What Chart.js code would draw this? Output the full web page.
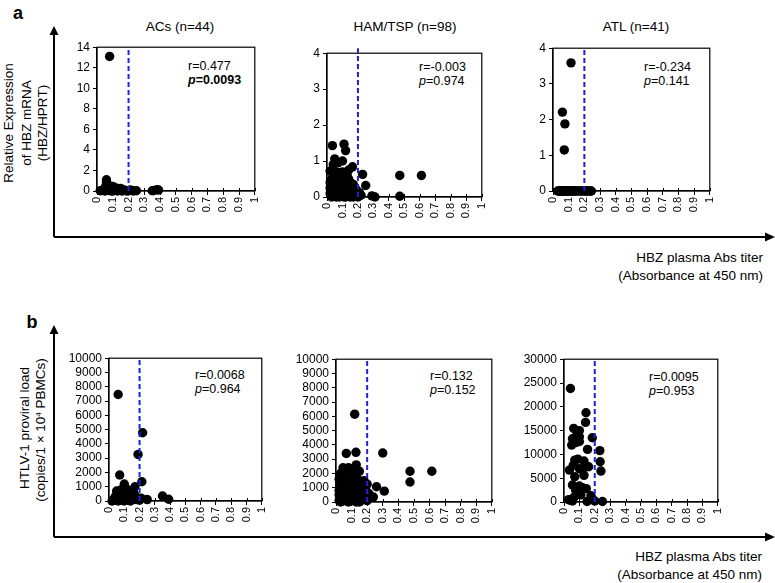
<!DOCTYPE html>
<html>
<head>
<meta charset="utf-8">
<script src="https://cdn.jsdelivr.net/npm/chart.js@4.4.1/dist/chart.umd.min.js"></script>
<style>
  html, body { margin: 0; padding: 0; background: #fff; }
  body { width: 775px; height: 583px; position: relative; overflow: hidden; font-family: "Liberation Sans", Arial, sans-serif; color: #000; }
  canvas { position: absolute; }
  .t { position: absolute; white-space: nowrap; font-size: 13.5px; line-height: 1; }
  .c { transform: translate(-50%, -50%); }
  .rot { transform: translate(-50%, -50%) rotate(-90deg); }
  .ann { position: absolute; white-space: nowrap; font-size: 12.5px; line-height: 14px; }
  .lab { position: absolute; white-space: nowrap; font-size: 13.5px; line-height: 18px; text-align: right; }
  svg { position: absolute; left: 0; top: 0; }
</style>
</head>
<body>
<svg width="775" height="583">
  <line x1="54" y1="237" x2="54" y2="33" stroke="#000" stroke-width="2"/>
  <polygon points="54,26 49.5,35 58.5,35" fill="#000"/>
  <line x1="54" y1="237" x2="766" y2="237" stroke="#000" stroke-width="2"/>
  <polygon points="775,237 765,232.5 765,241.5" fill="#000"/>
  <line x1="54" y1="537" x2="54" y2="332" stroke="#000" stroke-width="2"/>
  <polygon points="54,325 49.5,334 58.5,334" fill="#000"/>
  <line x1="54" y1="537" x2="766" y2="537" stroke="#000" stroke-width="2"/>
  <polygon points="775,537 765,532.5 765,541.5" fill="#000"/>
</svg>

<div class="t c" style="left:18px; top:13px; font-size:18px; font-weight:bold;">a</div>
<div class="t c" style="left:32px; top:322px; font-size:18px; font-weight:bold;">b</div>

<div class="t c" style="left:180px; top:27px;">ACs (n=44)</div>
<div class="t c" style="left:405px; top:27px;">HAM/TSP (n=98)</div>
<div class="t c" style="left:636px; top:27px;">ATL (n=41)</div>

<div class="t rot" style="left:9px; top:123px;">Relative Expression</div>
<div class="t rot" style="left:27px; top:123px;">of HBZ mRNA</div>
<div class="t rot" style="left:43px; top:123px;">(HBZ/HPRT)</div>

<div class="t rot" style="left:25px; top:428px;">HTLV-1 proviral load</div>
<div class="t rot" style="left:41px; top:430px;">(copies/1 × 10<sup style="font-size:8px; vertical-align:4px;">4</sup> PBMCs)</div>

<div class="lab" style="right:12px; top:249px;">HBZ plasma Abs titer<br>(Absorbance at 450 nm)</div>
<div class="lab" style="right:13px; top:548px;">HBZ plasma Abs titer<br>(Absorbance at 450 nm)</div>

<div class="ann" style="left:188px; top:59px;">r=0.477<br><b><i>p</i>=0.0093</b></div>
<div class="ann" style="left:419px; top:60px;">r=-0.003<br><i>p</i>=0.974</div>
<div class="ann" style="left:644px; top:60px;">r=-0.234<br><i>p</i>=0.141</div>
<div class="ann" style="left:195px; top:368px;">r=0.0068<br><i>p</i>=0.964</div>
<div class="ann" style="left:430px; top:369px;">r=0.132<br><i>p</i>=0.152</div>
<div class="ann" style="left:649px; top:370px;">r=0.0095<br><i>p</i>=0.953</div>

<canvas id="c1"></canvas>
<canvas id="c2"></canvas>
<canvas id="c3"></canvas>
<canvas id="c4"></canvas>
<canvas id="c5"></canvas>
<canvas id="c6"></canvas>

<script>
// ---------- DATA ----------
const xTicks = [0, 0.1, 0.2, 0.3, 0.4, 0.5, 0.6, 0.7, 0.8, 0.9, 1];
const cutoff = 0.2;

// Panel a: relative HBZ mRNA expression vs HBZ Abs titer
const acsHbzX = [0.02,0.03,0.04,0.05,0.05,0.06,0.06,0.06,0.07,0.07,0.07,0.08,0.08,0.08,0.09,0.09,0.09,0.10,0.10,0.10,0.11,0.11,0.12,0.12,0.13,0.13,0.14,0.15,0.15,0.16,0.17,0.18,0.19,0.20,0.21,0.22,0.23,0.25,0.35,0.36,0.38,0.39,0.06,0.08];
const acsHbzY = [0.02,0.05,0.1,0.3,0.0,1.1,0.6,0.15,0.4,0.05,0.2,13.1,0.5,0.1,0.25,0.0,0.35,0.1,0.45,0.0,0.2,0.05,0.3,0.1,0.0,0.15,0.1,0.25,0.05,0.0,0.1,0.05,0.0,0.02,0.1,0.05,0.0,0.02,0.02,0.05,0.12,0.1,0.8,0.3];

const hamHbzX = [0.035,0.11,0.12,0.05,0.10,0.165,0.14,0.23,0.47,0.61,0.47,0.29,0.31,0.25,0.02,0.07,0.04,0.06,0.09,0.13,0.15,0.17,0.19,0.21,0.18,0.20,0.02,0.03,0.02,0.03,0.04,0.05,0.06,0.07,0.08,0.09,0.10,0.11,0.12,0.13,0.14,0.15,0.04,0.05,0.06,0.07,0.08,0.09,0.10,0.11,0.12,0.13,0.14,0.16,0.17,0.05,0.08,0.10,0.12,0.03,0.06,0.07,0.08,0.09,0.10,0.11,0.12,0.13,0.04,0.05,0.06,0.07,0.08,0.09,0.10,0.11,0.14,0.15,0.16,0.18,0.19,0.22,0.03,0.04,0.05,0.06,0.07,0.08,0.09,0.10,0.11,0.12,0.13,0.14,0.15,0.16,0.17,0.02];
const hamHbzY = [1.43,1.47,1.29,1.06,1.0,0.84,0.75,0.63,0.6,0.6,0.02,0.03,0.0,0.32,0.72,0.95,0.9,0.7,0.65,0.6,0.4,0.35,0.2,0.12,0.05,0.0,0.4,0.3,0.1,0.0,0.55,0.45,0.35,0.25,0.15,0.05,0.5,0.4,0.3,0.2,0.1,0.0,0.2,0.1,0.0,0.5,0.4,0.3,0.2,0.1,0.0,0.45,0.3,0.2,0.1,0.6,0.6,0.7,0.55,0.5,0.15,0.05,0.0,0.45,0.35,0.25,0.15,0.05,0.05,0.3,0.5,0.35,0.25,0.15,0.05,0.55,0.5,0.25,0.05,0.25,0.1,0.05,0.15,0.35,0.2,0.25,0.15,0.5,0.2,0.1,0.0,0.4,0.3,0.2,0.1,0.3,0.0,0.25];

const atlHbzX = [0.115,0.06,0.076,0.072,0.03,0.035,0.04,0.045,0.05,0.05,0.055,0.06,0.06,0.065,0.07,0.07,0.075,0.08,0.085,0.09,0.09,0.1,0.1,0.11,0.115,0.12,0.13,0.135,0.14,0.15,0.16,0.17,0.18,0.19,0.2,0.205,0.21,0.22,0.23,0.24,0.245];
const atlHbzY = [3.59,2.21,1.88,1.15,0,0,0,0,0,0,0,0,0,0,0,0,0,0,0,0,0,0,0,0,0,0,0,0,0,0,0,0,0,0,0,0,0,0,0,0,0];

// Panel b: HTLV-1 proviral load vs HBZ Abs titer
const acsPvlX = [0.06,0.07,0.22,0.19,0.215,0.17,0.10,0.25,0.35,0.39,0.05,0.06,0.08,0.09,0.11,0.12,0.13,0.14,0.15,0.16,0.18,0.20,0.03,0.04,0.05,0.06,0.07,0.08,0.09,0.10,0.11,0.12,0.13,0.14,0.15,0.17,0.04,0.07,0.10,0.12,0.08,0.02,0.16,0.21];
const acsPvlY = [7460,1820,4780,3260,1350,1000,1190,100,350,120,700,550,800,600,900,400,700,300,500,200,100,50,100,300,200,0,400,100,300,0,200,50,300,0,150,400,50,50,500,700,450,0,600,200];

const hamPvlX = [0.12,0.066,0.128,0.30,0.475,0.615,0.475,0.26,0.31,0.24,0.045,0.13,0.15,0.18,0.20,0.08,0.10,0.02,0.03,0.05,0.07,0.09,0.11,0.12,0.14,0.16,0.19,0.21,0.22,0.02,0.03,0.04,0.05,0.06,0.07,0.08,0.09,0.10,0.11,0.12,0.13,0.14,0.15,0.16,0.17,0.18,0.20,0.02,0.03,0.04,0.05,0.06,0.07,0.08,0.09,0.10,0.11,0.12,0.13,0.14,0.15,0.16,0.17,0.19,0.04,0.06,0.08,0.10,0.12,0.03,0.05,0.07,0.09,0.11,0.13,0.15,0.17,0.06,0.08,0.10,0.12,0.14,0.16,0.18,0.05,0.07,0.09,0.11,0.13,0.15,0.04,0.10,0.12,0.14,0.02,0.06,0.08,0.10];
const hamPvlY = [6150,3400,3480,3430,2150,2150,1400,1070,760,350,2400,2600,2150,1500,1250,2400,2300,1600,1200,1800,1900,1700,2000,1500,1300,1100,900,600,300,800,400,1000,600,1400,900,500,1200,800,400,1000,600,200,800,400,700,300,100,100,0,300,100,700,300,1100,200,500,1300,200,0,900,300,100,200,500,1500,2000,1600,1700,2200,2000,1300,1100,800,700,1200,1000,1300,100,0,100,600,500,700,800,400,600,400,100,400,0,700,1400,1800,1600,500,1000,200,300];

const atlPvlX = [0.042,0.143,0.14,0.063,0.10,0.055,0.10,0.184,0.05,0.10,0.153,0.233,0.235,0.24,0.07,0.13,0.035,0.10,0.16,0.06,0.07,0.13,0.055,0.10,0.145,0.075,0.11,0.175,0.18,0.04,0.055,0.15,0.25,0.20,0.09,0.12,0.08,0.03,0.065,0.12,0.085];
const atlPvlY = [23850,18740,16720,15460,15000,13280,13700,13500,11960,12700,11050,10800,8460,6500,8800,8600,6700,7000,7400,7700,5300,5600,3570,3350,2800,2500,1500,1300,800,400,200,100,100,200,9000,6800,12500,500,1000,3000,14200];

// ---------- CHART SETUP ----------
const PAD_L = 48, PAD_T = 10, PAD_R = 10, PAD_B = 30;

const boxPlugin = {
  id: 'boxPlugin',
  beforeDatasetsDraw(chart) {
    const a = chart.chartArea, ctx = chart.ctx;
    ctx.save();
    ctx.strokeStyle = '#000';
    ctx.lineWidth = 1.2;
    ctx.strokeRect(a.left, a.top, a.right - a.left, a.bottom - a.top);
    // inner halves of the x tick marks (cross marks)
    const xs = chart.scales.x;
    ctx.lineWidth = 1;
    ctx.beginPath();
    xs.ticks.forEach(t => {
      const px = Math.round(xs.getPixelForValue(t.value)) + 0.5;
      ctx.moveTo(px, a.bottom);
      ctx.lineTo(px, a.bottom - 3);
    });
    ctx.stroke();
    ctx.restore();
  }
};

function makeChart(id, rect, xs, ys, yMax, yStep, dashTop) {
  const L = rect[0], T = rect[1], R = rect[2], B = rect[3];
  const cv = document.getElementById(id);
  const W = (R - L) + PAD_L + PAD_R, H = (B - T) + PAD_T + PAD_B;
  cv.style.left = (L - PAD_L) + 'px';
  cv.style.top = (T - PAD_T) + 'px';
  cv.width = W; cv.height = H;
  cv.style.width = W + 'px'; cv.style.height = H + 'px';
  const pts = xs.map((x, i) => ({ x: x, y: ys[i] }));
  return new Chart(cv, {
    type: 'scatter',
    data: {
      datasets: [
        {
          type: 'line',
          data: [{ x: cutoff, y: 0 }, { x: cutoff, y: dashTop }],
          borderColor: '#1f22d6',
          borderWidth: 2,
          borderDash: [5, 3],
          pointRadius: 0,
          fill: false,
          clip: false,
          order: 0
        },
        {
          data: pts,
          backgroundColor: '#000',
          borderColor: '#000',
          borderWidth: 0,
          pointRadius: 4.7,
          pointHoverRadius: 4.7,
          clip: false,
          order: 1
        }
      ]
    },
    options: {
      responsive: false,
      animation: false,
      events: [],
      layout: { padding: { left: 0, top: PAD_T, right: PAD_R, bottom: 0 } },
      plugins: { legend: { display: false }, tooltip: { enabled: false } },
      scales: {
        x: {
          type: 'linear',
          min: 0, max: 1,
          afterBuildTicks(s) { s.ticks = xTicks.map(v => ({ value: v })); },
          afterFit(s) { s.height = PAD_B; },
          ticks: {
            minRotation: 90, maxRotation: 90,
            autoSkip: false,
            color: '#000',
            padding: 2,
            font: { family: 'Liberation Sans', size: 11 },
            callback: v => String(Number(v.toFixed(1)))
          },
          grid: { drawOnChartArea: false, drawTicks: true, tickLength: 4, color: '#000', lineWidth: 1 },
          border: { display: true, color: '#000', width: 1.2 }
        },
        y: {
          type: 'linear',
          min: 0, max: yMax,
          afterFit(s) { s.width = PAD_L; },
          ticks: {
            stepSize: yStep,
            autoSkip: false,
            color: '#000',
            padding: 3,
            font: { family: 'Liberation Sans', size: 12 },
            callback: v => String(v)
          },
          grid: { drawOnChartArea: false, drawTicks: true, tickLength: 4, color: '#000', lineWidth: 1 },
          border: { display: true, color: '#000', width: 1.2 }
        }
      }
    },
    plugins: [boxPlugin]
  });
}

makeChart('c1', [97, 47, 260, 191], acsHbzX, acsHbzY, 14, 2, 14);
makeChart('c2', [327, 53, 487, 197], hamHbzX, hamHbzY, 4, 1, 4.14);
makeChart('c3', [553, 48, 715, 191], atlHbzX, atlHbzY, 4, 1, 4);
makeChart('c4', [109, 358, 267, 501], acsPvlX, acsPvlY, 10000, 1000, 10000);
makeChart('c5', [336, 359, 497, 502], hamPvlX, hamPvlY, 10000, 1000, 10000);
makeChart('c6', [564, 359, 723, 502], atlPvlX, atlPvlY, 30000, 5000, 30000);
</script>
</body>
</html>
